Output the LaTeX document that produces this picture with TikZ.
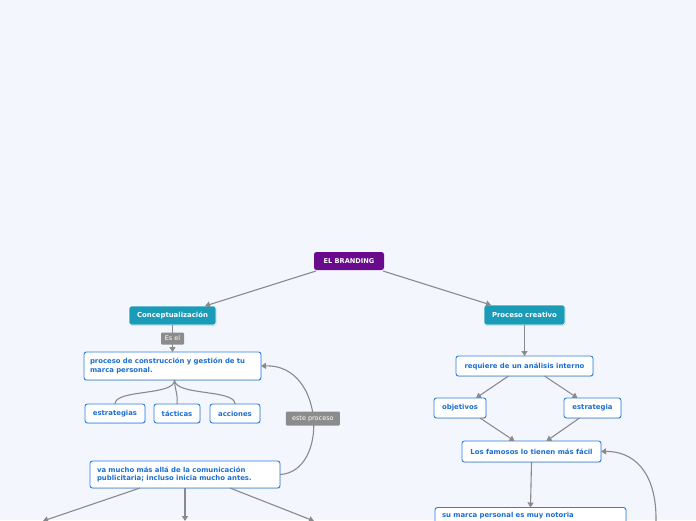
\documentclass[tikz,border=0pt]{standalone}
\usepackage{fontspec}
\setmainfont{DejaVu Sans}
\usetikzlibrary{arrows.meta,shadows}
\definecolor{bgc}{HTML}{F3F6FD}
\definecolor{purp}{HTML}{6A0A8C}
\definecolor{teal}{HTML}{1A9CB9}
\definecolor{lblg}{HTML}{8C8C8C}
\definecolor{linec}{HTML}{8A8A8E}
\definecolor{bord}{HTML}{2B7FE0}
\definecolor{txtb}{HTML}{1C6ED0}
\tikzset{
  every node/.style={inner sep=0pt, outer sep=0pt, font=\fontsize{6.9}{8.2}\selectfont},
  topbox/.style={rounded corners=2.5pt, fill=purp, text=white, font=\fontsize{6.6}{8}\selectfont\bfseries},
  catbox/.style={rounded corners=2.5pt, fill=teal, draw=white, line width=0.6pt, text=white, font=\fontsize{6.9}{8.2}\selectfont\bfseries,
     drop shadow={opacity=0.25, shadow xshift=0.6pt, shadow yshift=-0.9pt}},
  wbox/.style={rounded corners=2.5pt, fill=white, draw=bord, line width=0.9pt, text=txtb, font=\fontsize{6.9}{8.2}\selectfont\bfseries,
     drop shadow={opacity=0.22, shadow xshift=0.6pt, shadow yshift=-0.9pt}},
  lbl/.style={rounded corners=1pt, fill=lblg, text=white, font=\fontsize{6.5}{7.5}\selectfont},
  conn/.style={draw=linec, line width=1.1pt},
  arr/.style={conn, -{Triangle[length=5pt,width=6pt]}},
}
\begin{document}
\begin{tikzpicture}[x=1pt,y=-1pt]
\fill[bgc] (0,0) rectangle (696,520);
\useasboundingbox (0,0) rectangle (696,520);

% nodes
\node[topbox, minimum width=70pt, minimum height=18pt] (brand) at (349,261) {EL BRANDING};
\node[catbox, minimum width=87pt, minimum height=19pt] (concept) at (172.5,315.5) {Conceptualización};
\node[wbox, minimum width=177pt, minimum height=28pt, text width=165pt, align=left] (proc) at (172.5,366) {proceso de construcción y gestión de tu\\marca personal.};
\node[wbox, minimum width=60pt, minimum height=19pt] (estr) at (115,413.5) {estrategias};
\node[wbox, minimum width=46pt, minimum height=19pt] (tact) at (177,413.5) {tácticas};
\node[wbox, minimum width=50pt, minimum height=19pt] (acc) at (235,413.5) {acciones};
\node[wbox, minimum width=190pt, minimum height=27pt, text width=176pt, align=left] (va) at (185,474.5) {va mucho más allá de la comunicación\\publicitaria; incluso inicia mucho antes.};

\node[catbox, minimum width=81pt, minimum height=20pt] (pcre) at (524.5,315) {Proceso creativo};
\node[wbox, minimum width=137pt, minimum height=20pt] (req) at (524.5,366) {requiere de un análisis interno};
\node[wbox, minimum width=52pt, minimum height=20pt] (obj) at (460,408) {objetivos};
\node[wbox, minimum width=57pt, minimum height=20pt] (estra) at (592.5,408) {estrategia};
\node[wbox, minimum width=139pt, minimum height=21pt] (fam) at (531.5,451.5) {Los famosos lo tienen más fácil};
\node[wbox, anchor=north, minimum width=191pt, minimum height=24pt, text width=177pt, align=left, inner ysep=5pt] (marca) at (530.5,507.5) {su marca personal es muy notoria\\[4pt]\phantom{x}};

\coordinate (vaL) at (43,521);
\coordinate (vaC) at (185,521);
\coordinate (vaR) at (314,521);
\coordinate (rb) at (656,522);

% connectors
\draw[arr] ([xshift=2pt,yshift=-1pt]brand.south west) -- ([xshift=-11pt]concept.north east);
\draw[arr] ([xshift=-1pt,yshift=-1pt]brand.south east) -- ([xshift=7pt]pcre.north west);
\draw[arr] (concept.south) -- node[lbl, minimum width=23pt, minimum height=12pt] (esel) {Es el} (proc.north);

\draw[conn] ([xshift=2pt]proc.south) .. controls (175,396) and (115,389) .. (estr.north);
\draw[conn] ([xshift=2pt]proc.south) .. controls (175,392) and (178,392) .. (tact.north);
\draw[conn] ([xshift=2pt]proc.south) .. controls (175,396) and (235,389) .. (acc.north);

\draw[arr] (va.east) .. controls (329,472) and (325,364) .. (proc.east)
   node[pos=0.5, lbl, minimum width=54pt, minimum height=14pt] (este) {este proceso};

\draw[arr] ([xshift=-45pt]va.south) -- (vaL);
\draw[arr] (va.south) -- (vaC);
\draw[arr] ([xshift=45pt]va.south) -- (vaR);

\draw[arr] (pcre.south) -- (req.north);
\draw[arr] ([xshift=-16pt]req.south) -- ([xshift=16pt]obj.north);
\draw[arr] ([xshift=20pt]req.south) -- ([xshift=-15pt]estra.north);
\draw[arr] ([xshift=20pt]obj.south) -- ([xshift=-17pt]fam.north);
\draw[arr] ([xshift=-13pt]estra.south) -- ([xshift=15pt]fam.north);
\draw[arr] (fam.south) -- (marca.north);
\draw[arr] (rb) .. controls (657,470) and (632,451) .. (fam.east);
\end{tikzpicture}
\end{document}
